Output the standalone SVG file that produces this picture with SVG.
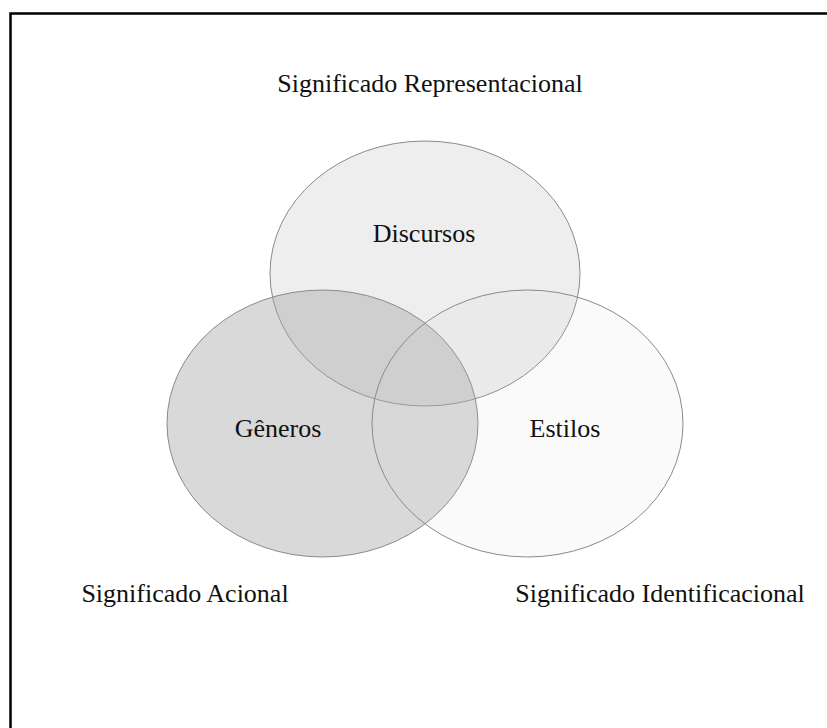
<svg xmlns="http://www.w3.org/2000/svg" width="827" height="728" viewBox="0 0 827 728">
  <style>
    .label { font-family: "Liberation Serif", "Times New Roman", serif; font-size: 26px; fill: #111; text-anchor: middle; }
    .set { stroke: #8a8a8a; stroke-width: 1; }
  </style>
  <rect width="827" height="728" fill="#ffffff"/>
  <!-- open frame: top and left edges only -->
  <path d="M10.5 728 V13.5 H827" fill="none" stroke="#000" stroke-width="2.5"/>

  <g id="discursos">
    <ellipse class="set" cx="425" cy="273.5" rx="155" ry="132.5" fill="#000" fill-opacity="0.067"/>
    <text class="label" x="424" y="242">Discursos</text>
  </g>
  <g id="generos">
    <ellipse class="set" cx="322.5" cy="423.5" rx="155.5" ry="133.5" fill="#a3a3a3" fill-opacity="0.41"/>
    <text class="label" x="278" y="437">Gêneros</text>
  </g>
  <g id="estilos">
    <ellipse class="set" cx="527.5" cy="423.5" rx="155.5" ry="133.5" fill="#cfcfcf" fill-opacity="0.105"/>
    <text class="label" x="565" y="437">Estilos</text>
  </g>

  <g id="significado-representacional">
    <text class="label" x="430" y="92">Significado Representacional</text>
  </g>
  <g id="significado-acional">
    <text class="label" x="185" y="602">Significado Acional</text>
  </g>
  <g id="significado-identificacional">
    <text class="label" x="660" y="602">Significado Identificacional</text>
  </g>

  <g id="connectors"/>
</svg>
